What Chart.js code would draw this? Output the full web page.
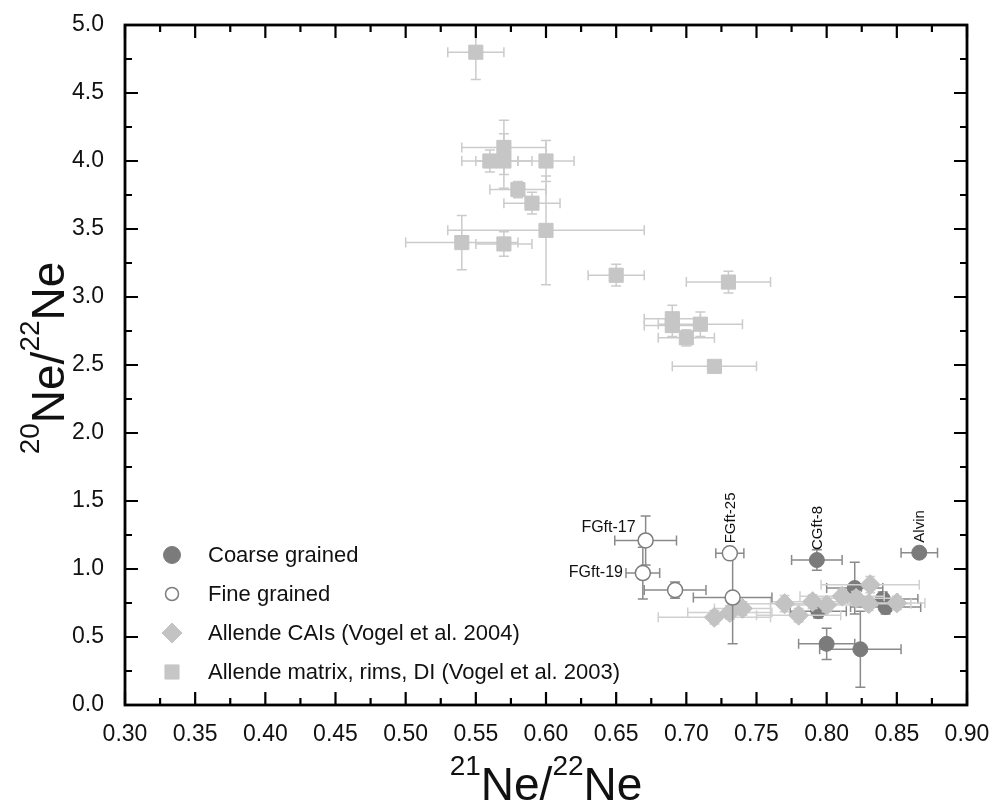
<!DOCTYPE html>
<html>
<head>
<meta charset="utf-8">
<script src="https://cdn.jsdelivr.net/npm/chart.js@4.4.0/dist/chart.umd.min.js"></script>
<style>
  html, body { margin: 0; padding: 0; background: #fff; }
  #wrap { width: 998px; height: 811px; position: relative; }
</style>
</head>
<body>
<div id="wrap"><canvas id="neChart"></canvas></div>
<script>
// values (21Ne/22Ne, 20Ne/22Ne, and 1-sigma bars)
const coarseX    = [0.866, 0.793, 0.820, 0.794, 0.840, 0.842, 0.800, 0.824];
const coarseY    = [1.12,  1.066, 0.86,  0.69,  0.78,  0.72,  0.45,  0.41];
const coarseXErr = [0.013, 0.018, 0.020, 0.020, 0.025, 0.025, 0.020, 0.029];
const coarseYErr = [0.03,  0.075, 0.19,  0.05,  0.05,  0.05,  0.115, 0.28];
const coarseNames = ['Alvin', 'CGft-8', '', '', '', '', '', ''];

const fineX    = [0.671, 0.669, 0.692, 0.731, 0.733];
const fineY    = [1.21,  0.97,  0.845, 1.115, 0.79];
const fineXErr = [0.022, 0.012, 0.022, 0.010, 0.028];
const fineYErr = [0.18,  0.19,  0.06,  0.02,  0.34];
const fineNames = ['FGft-17', 'FGft-19', '', 'FGft-25', ''];

const caiX    = [0.720, 0.731, 0.740, 0.770, 0.780, 0.790, 0.800, 0.811, 0.821, 0.831, 0.830, 0.850];
const caiY    = [0.645, 0.68,  0.71,  0.745, 0.66,  0.76,  0.735, 0.80,  0.785, 0.885, 0.745, 0.75];
const caiXErr = [0.040, 0.030, 0.020, 0.030, 0.030, 0.030, 0.030, 0.030, 0.030, 0.035, 0.030, 0.020];
const caiYErr = [0.05,  0.05,  0.05,  0.06,  0.05,  0.05,  0.05,  0.05,  0.05,  0.06,  0.05,  0.05];

const matrixX    = [0.55, 0.56, 0.57, 0.57, 0.60, 0.58, 0.59, 0.60, 0.54, 0.57, 0.65, 0.73, 0.69, 0.69, 0.71, 0.70, 0.72];
const matrixY    = [4.80, 4.00, 4.00, 4.10, 4.00, 3.79, 3.69, 3.49, 3.40, 3.39, 3.16, 3.11, 2.84, 2.79, 2.80, 2.70, 2.49];
const matrixXErr = [0.02, 0.02, 0.02, 0.03, 0.02, 0.02, 0.02, 0.07, 0.04, 0.02, 0.02, 0.03, 0.02, 0.02, 0.03, 0.02, 0.03];
const matrixYErr = [0.20, 0.08, 0.20, 0.20, 0.15, 0.06, 0.08, 0.40, 0.20, 0.09, 0.08, 0.08, 0.10, 0.08, 0.09, 0.06, 0.04];

const seriesNames = [
  'Coarse grained',
  'Fine grained',
  'Allende CAIs (Vogel et al. 2004)',
  'Allende matrix, rims, DI (Vogel et al. 2003)'
];

const FONT = "'Liberation Sans', Arial, sans-serif";
const pts = (xs, ys) => xs.map((x, i) => ({ x: x, y: ys[i] }));

// error bars, drawn just under each dataset's markers
const errorBars = {
  id: 'errorBars',
  beforeDatasetDraw(chart, args) {
    const ds = chart.data.datasets[args.index];
    if (!ds.xErr) return;
    const sx = chart.scales.x, sy = chart.scales.y, ctx = chart.ctx;
    const cap = 5;
    ctx.save();
    ctx.strokeStyle = ds.errColor;
    ctx.lineWidth = 1.5;
    ds.data.forEach((p, i) => {
      const px = sx.getPixelForValue(p.x), py = sy.getPixelForValue(p.y);
      const x0 = sx.getPixelForValue(p.x - ds.xErr[i]), x1 = sx.getPixelForValue(p.x + ds.xErr[i]);
      const y0 = sy.getPixelForValue(p.y - ds.yErr[i]), y1 = sy.getPixelForValue(p.y + ds.yErr[i]);
      ctx.beginPath();
      ctx.moveTo(x0, py); ctx.lineTo(x1, py);
      ctx.moveTo(x0, py - cap); ctx.lineTo(x0, py + cap);
      ctx.moveTo(x1, py - cap); ctx.lineTo(x1, py + cap);
      ctx.moveTo(px, y0); ctx.lineTo(px, y1);
      ctx.moveTo(px - cap, y0); ctx.lineTo(px + cap, y0);
      ctx.moveTo(px - cap, y1); ctx.lineTo(px + cap, y1);
      ctx.stroke();
    });
    ctx.restore();
  }
};

// box frame with inward major/minor ticks on all four sides
const frame = {
  id: 'frame',
  afterDatasetsDraw(chart) {
    const { ctx, chartArea: a } = chart;
    const sx = chart.scales.x, sy = chart.scales.y;
    ctx.save();
    ctx.strokeStyle = '#000';
    ctx.lineWidth = 2.2;
    const xt = sx.ticks.map(t => t.value), yt = sy.ticks.map(t => t.value);
    const tick = (vals, len, horiz) => {
      vals.forEach(v => {
        if (horiz) {
          const p = sx.getPixelForValue(v);
          ctx.moveTo(p, a.bottom); ctx.lineTo(p, a.bottom - len);
          ctx.moveTo(p, a.top); ctx.lineTo(p, a.top + len);
        } else {
          const p = sy.getPixelForValue(v);
          ctx.moveTo(a.left, p); ctx.lineTo(a.left + len, p);
          ctx.moveTo(a.right, p); ctx.lineTo(a.right - len, p);
        }
      });
    };
    ctx.beginPath();
    tick(xt, 13, true);
    tick(xt.slice(1).map((v, i) => (v + xt[i]) / 2), 7, true);
    tick(yt, 13, false);
    tick(yt.slice(1).map((v, i) => (v + yt[i]) / 2), 7, false);
    ctx.stroke();
    ctx.lineWidth = 2.8;
    ctx.strokeRect(a.left, a.top, a.right - a.left, a.bottom - a.top);
    ctx.restore();
  }
};

// axis titles with superscripts, point labels, legend
const decor = {
  id: 'decor',
  afterDraw(chart) {
    const ctx = chart.ctx, a = chart.chartArea;
    const sx = chart.scales.x, sy = chart.scales.y;
    ctx.save();
    ctx.fillStyle = '#111';

    const isoTitle = (m1, m2) => {
      const big = '46px ' + FONT, small = '28px ' + FONT;
      const parts = [[m1, small, true], ['Ne/', big, false], [m2, small, true], ['Ne', big, false]];
      let w = 0;
      parts.forEach(p => { ctx.font = p[1]; p.push(ctx.measureText(p[0]).width); w += p[3]; });
      let x = -w / 2;
      ctx.textBaseline = 'alphabetic';
      ctx.textAlign = 'left';
      parts.forEach(p => { ctx.font = p[1]; ctx.fillText(p[0], x, p[2] ? -25 : 0); x += p[3]; });
    };
    ctx.save();
    ctx.translate((a.left + a.right) / 2, 800);
    isoTitle('21', '22');
    ctx.restore();
    ctx.save();
    ctx.translate(64, (a.top + a.bottom) / 2 - 7);
    ctx.rotate(-Math.PI / 2);
    isoTitle('20', '22');
    ctx.restore();

    // sample labels
    const labelAt = (name, x, y, xe) => {
      const px = sx.getPixelForValue(x), py = sy.getPixelForValue(y);
      if (name === 'FGft-17') {
        ctx.font = '16px ' + FONT; ctx.textAlign = 'right'; ctx.textBaseline = 'middle';
        ctx.fillText(name, px - 10, py - 13);
      } else if (name === 'FGft-19') {
        ctx.font = '16px ' + FONT; ctx.textAlign = 'right'; ctx.textBaseline = 'middle';
        ctx.fillText(name, sx.getPixelForValue(x - xe) - 3, py);
      } else {
        ctx.save();
        ctx.font = '15px ' + FONT;
        ctx.translate(px + 1, py - 10);
        ctx.rotate(-Math.PI / 2);
        ctx.textAlign = 'left'; ctx.textBaseline = 'middle';
        ctx.fillText(name, 0, 0);
        ctx.restore();
      }
    };
    fineNames.forEach((n, i) => { if (n) labelAt(n, fineX[i], fineY[i], fineXErr[i]); });
    coarseNames.forEach((n, i) => { if (n) labelAt(n, coarseX[i], coarseY[i], coarseXErr[i]); });

    // legend inside the plot, lower left: coarse, fine, CAIs, matrix
    const order = [2, 0, 1, 3];
    order.forEach((dsIndex, row) => {
      const ds = chart.data.datasets[dsIndex];
      const y = 555 + row * 39;
      ctx.fillStyle = ds.backgroundColor;
      ctx.strokeStyle = ds.borderColor;
      ctx.lineWidth = ds.borderWidth;
      Chart.helpers.drawPoint(ctx, { pointStyle: ds.pointStyle, radius: ds.legendRadius, borderWidth: ds.borderWidth }, 172, y);
      ctx.fillStyle = '#111';
      ctx.font = '22px ' + FONT;
      ctx.textAlign = 'left'; ctx.textBaseline = 'middle';
      ctx.fillText(seriesNames[row], 208, y + 1);
    });
    ctx.restore();
  }
};

new Chart(document.getElementById('neChart'), {
  type: 'scatter',
  data: {
    datasets: [
      {
        label: seriesNames[1], data: pts(fineX, fineY), xErr: fineXErr, yErr: fineYErr,
        pointStyle: 'circle', pointRadius: 7.5, legendRadius: 6.5,
        backgroundColor: '#ffffff', borderColor: '#7d7d7d', borderWidth: 1.5, errColor: '#8a8a8a'
      },
      {
        label: seriesNames[2], data: pts(caiX, caiY), xErr: caiXErr, yErr: caiYErr,
        pointStyle: 'rectRot', pointRadius: 10, legendRadius: 10,
        backgroundColor: '#c3c3c3', borderColor: '#c3c3c3', borderWidth: 1, errColor: '#d0d0d0'
      },
      {
        label: seriesNames[0], data: pts(coarseX, coarseY), xErr: coarseXErr, yErr: coarseYErr,
        pointStyle: 'circle', pointRadius: 7.5, legendRadius: 8.5,
        backgroundColor: '#7b7b7b', borderColor: '#7b7b7b', borderWidth: 1, errColor: '#8a8a8a'
      },
      {
        label: seriesNames[3], data: pts(matrixX, matrixY), xErr: matrixXErr, yErr: matrixYErr,
        pointStyle: 'rect', pointRadius: 10, legendRadius: 10,
        backgroundColor: '#c6c6c6', borderColor: '#c6c6c6', borderWidth: 1, errColor: '#cbcbcb'
      }
    ]
  },
  options: {
    responsive: true,
    maintainAspectRatio: false,
    animation: false,
    events: [],
    layout: { padding: { top: 25, right: 31, left: 0, bottom: 0 } },
    plugins: { legend: { display: false }, tooltip: { enabled: false } },
    scales: {
      x: {
        type: 'linear', min: 0.3, max: 0.9,
        grid: { display: false, drawTicks: false },
        border: { display: false },
        ticks: {
          stepSize: 0.05, autoSkip: false, maxRotation: 0, padding: 16,
          color: '#111', font: { family: FONT, size: 23 },
          callback: v => v.toFixed(2)
        },
        afterFit: s => { s.height = 106; s.paddingLeft = 0; s.paddingRight = 0; }
      },
      y: {
        type: 'linear', min: 0, max: 5,
        grid: { display: false, drawTicks: false },
        border: { display: false },
        ticks: {
          stepSize: 0.5, autoSkip: false, padding: 21,
          color: '#111', font: { family: FONT, size: 23 },
          callback: v => v.toFixed(1)
        },
        afterFit: s => { s.width = 125; s.paddingTop = 0; s.paddingBottom = 0; }
      }
    }
  },
  plugins: [errorBars, frame, decor]
});
</script>
</body>
</html>
